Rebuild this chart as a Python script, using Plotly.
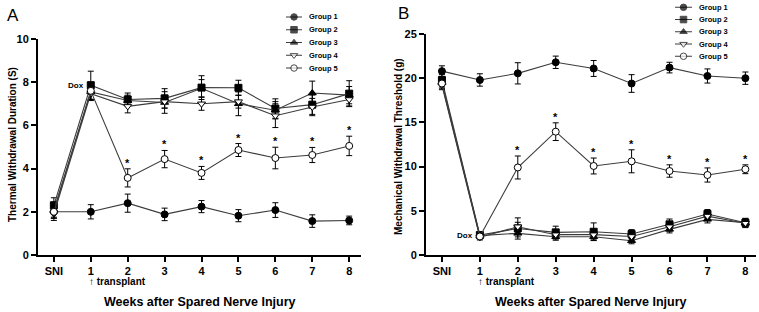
import plotly.graph_objects as go

# ---------------- data ----------------
weeks = [0, 1, 2, 3, 4, 5, 6, 7, 8]
week_labels = ["SNI", "1", "2", "3", "4", "5", "6", "7", "8"]
group_names = ["Group 1", "Group 2", "Group 3", "Group 4", "Group 5"]

# Panel A: Thermal withdrawal duration (S)
a_g1 = [2.0, 2.0, 2.4, 1.88, 2.24, 1.82, 2.08, 1.57, 1.6]
a_g1_err = [0.3, 0.33, 0.42, 0.29, 0.28, 0.28, 0.34, 0.29, 0.2]
a_g2 = [2.3, 7.86, 7.2, 7.25, 7.75, 7.74, 6.78, 6.96, 7.47]
a_g2_err = [0.35, 0.65, 0.3, 0.45, 0.55, 0.35, 0.45, 0.45, 0.6]
a_g3 = [2.1, 7.55, 7.15, 7.06, 7.72, 7.0, 6.7, 7.5, 7.4]
a_g3_err = [0.35, 0.4, 0.25, 0.5, 0.4, 0.55, 0.4, 0.55, 0.4]
a_g4 = [1.9, 7.47, 6.88, 7.1, 7.0, 7.1, 6.45, 6.85, 7.2]
a_g4_err = [0.3, 0.3, 0.3, 0.3, 0.3, 0.3, 0.55, 0.4, 0.3]
a_g5 = [2.0, 7.6, 3.57, 4.44, 3.8, 4.86, 4.49, 4.63, 5.05]
a_g5_err = [0.3, 0.4, 0.42, 0.4, 0.3, 0.3, 0.5, 0.35, 0.45]
a_star_weeks = [2, 3, 4, 5, 6, 7, 8]

# Panel B: Mechanical withdrawal threshold (g)
b_g1 = [20.8, 19.8, 20.55, 21.8, 21.1, 19.4, 21.2, 20.25, 20.0]
b_g1_err = [0.6, 0.7, 1.2, 0.7, 0.9, 1.0, 0.6, 0.8, 0.7]
b_g2 = [19.8, 2.26, 3.0, 2.56, 2.63, 2.37, 3.47, 4.64, 3.65]
b_g2_err = [0.6, 0.3, 1.2, 0.7, 1.0, 0.5, 0.6, 0.5, 0.5]
b_g3 = [19.5, 2.2, 2.45, 2.07, 2.07, 1.62, 2.9, 4.03, 3.65]
b_g3_err = [0.5, 0.3, 0.4, 0.4, 0.4, 0.35, 0.4, 0.4, 0.4]
b_g4 = [19.2, 2.0, 3.2, 2.3, 2.3, 2.1, 3.2, 4.4, 3.6]
b_g4_err = [0.5, 0.3, 0.5, 0.5, 0.5, 0.4, 0.5, 0.5, 0.5]
b_g5 = [19.4, 2.1, 9.9, 13.95, 10.07, 10.6, 9.5, 9.05, 9.7]
b_g5_err = [0.6, 0.3, 1.3, 1.0, 0.9, 1.3, 0.7, 0.8, 0.5]
b_star_weeks = [2, 3, 4, 5, 6, 7, 8]

a_ticks = [0, 2, 4, 6, 8, 10]
b_ticks = [0, 5, 10, 15, 20, 25]

# ---------------- styling ----------------
W, H = 759, 312
FONT = "Liberation Sans, Arial, sans-serif"
LINE_C = "#3c3c3c"
marker_styles = [
    dict(symbol="circle", color="black", size=7, line=dict(color="black", width=1)),
    dict(symbol="square", color="black", size=7, line=dict(color="black", width=1)),
    dict(symbol="triangle-up", color="black", size=7, line=dict(color="black", width=1)),
    dict(symbol="triangle-down", color="white", size=7, line=dict(color="black", width=1)),
    dict(symbol="circle", color="white", size=7, line=dict(color="black", width=1)),
]


def px_x(p):
    return p / W


def px_y(p):
    return (H - p) / H


fig = go.Figure()

panels = [
    ("x", "y", [a_g1, a_g2, a_g3, a_g4, a_g5],
     [a_g1_err, a_g2_err, a_g3_err, a_g4_err, a_g5_err]),
    ("x2", "y2", [b_g1, b_g2, b_g3, b_g4, b_g5],
     [b_g1_err, b_g2_err, b_g3_err, b_g4_err, b_g5_err]),
]
draw_order = [1, 2, 3, 0, 4]
for xa, ya, vals, errs in panels:
    for gi in draw_order:
        fig.add_trace(go.Scatter(
            x=weeks, y=vals[gi], xaxis=xa, yaxis=ya, mode="lines+markers",
            name=group_names[gi], showlegend=False, cliponaxis=False,
            line=dict(color=LINE_C, width=1.1),
            marker=marker_styles[gi],
            error_y=dict(type="data", array=errs[gi], visible=True,
                         color="black", thickness=1, width=3),
        ))

# custom legends (small inset axes)
legend_axes = [("x3", "y3"), ("x4", "y4")]
for xa, ya in legend_axes:
    for gi, name in enumerate(group_names):
        fig.add_trace(go.Scatter(
            x=[0, 0.5, 1], y=[gi, gi, gi], xaxis=xa, yaxis=ya,
            mode="lines+markers", showlegend=False, cliponaxis=False,
            line=dict(color=LINE_C, width=1.1),
            marker=dict(symbol=marker_styles[gi]["symbol"],
                        color=marker_styles[gi]["color"],
                        size=[0, 6.5, 0],
                        line=dict(color="black", width=1)),
            hoverinfo="skip",
        ))
        fig.add_annotation(x=1, y=gi, xref=xa, yref=ya, text=name,
                           showarrow=False, xanchor="left", xshift=5,
                           font=dict(size=7.5, family=FONT, color="black", weight="bold"))

# significance asterisks
for w in a_star_weeks:
    fig.add_annotation(x=w, y=a_g5[w] + a_g5_err[w], xref="x", yref="y", text="*",
                       showarrow=False, yanchor="bottom", yshift=-2,
                       font=dict(size=11, family=FONT, color="black", weight="bold"))
for w in b_star_weeks:
    fig.add_annotation(x=w, y=b_g5[w] + b_g5_err[w], xref="x2", yref="y2", text="*",
                       showarrow=False, yanchor="bottom", yshift=-2,
                       font=dict(size=11, family=FONT, color="black", weight="bold"))

# Dox labels
fig.add_annotation(x=1, y=a_g2[1], xref="x", yref="y", text="Dox", showarrow=False,
                   xanchor="right", xshift=-5,
                   font=dict(size=8, family=FONT, color="black", weight="bold"))
fig.add_annotation(x=1, y=b_g2[1], xref="x2", yref="y2", text="Dox", showarrow=False,
                   xanchor="right", xshift=-5,
                   font=dict(size=8, family=FONT, color="black", weight="bold"))

# transplant labels
for xr in ["x", "x2"]:
    fig.add_annotation(x=1, y=px_y(281), xref=xr, yref="paper", text="↑ transplant",
                       showarrow=False, xanchor="left", xshift=-4, yanchor="middle",
                       font=dict(size=10, family=FONT, color="black", weight="bold"))

# x titles
for xr in ["x domain", "x2 domain"]:
    fig.add_annotation(x=0.5, y=px_y(302), xref=xr, yref="paper",
                       text="Weeks after Spared Nerve Injury", showarrow=False,
                       xanchor="center", yanchor="middle",
                       font=dict(size=12.5, family=FONT, color="black", weight="bold"))

# y titles
fig.add_annotation(x=px_x(12), y=px_y(145), xref="paper", yref="paper",
                   text="Thermal Withdrawal Duration (S)", textangle=-90,
                   showarrow=False, xanchor="center", yanchor="middle",
                   font=dict(size=10, family=FONT, color="black", weight="bold"))
fig.add_annotation(x=px_x(398), y=px_y(147), xref="paper", yref="paper",
                   text="Mechanical Withdrawal Threshold (g)", textangle=-90,
                   showarrow=False, xanchor="center", yanchor="middle",
                   font=dict(size=10, family=FONT, color="black", weight="bold"))

# panel letters
fig.add_annotation(x=px_x(13), y=px_y(15), xref="paper", yref="paper", text="A",
                   showarrow=False, xanchor="center", yanchor="middle",
                   font=dict(size=17, family=FONT, color="black"))
fig.add_annotation(x=px_x(403), y=px_y(14), xref="paper", yref="paper", text="B",
                   showarrow=False, xanchor="center", yanchor="middle",
                   font=dict(size=17, family=FONT, color="black"))

axis_common = dict(showline=True, linewidth=2, linecolor="black", showgrid=False,
                   zeroline=False, ticks="outside", ticklen=5, tickwidth=2,
                   tickcolor="black", automargin=False,
                   tickfont=dict(size=11, family=FONT, color="black", weight="bold"))

hidden = dict(visible=False, showgrid=False, zeroline=False, fixedrange=True,
              automargin=False)

fig.update_layout(
    width=W, height=H, autosize=False,
    margin=dict(l=0, r=0, t=0, b=0, pad=0, autoexpand=False),
    paper_bgcolor="white", plot_bgcolor="white", showlegend=False,
    xaxis=dict(domain=[px_x(38), px_x(361)], range=[-0.43, 8.32],
               tickvals=weeks, ticktext=week_labels, anchor="y", **axis_common),
    yaxis=dict(domain=[px_y(255), px_y(39)], range=[0, 10], tickvals=a_ticks,
               anchor="x", **axis_common),
    xaxis2=dict(domain=[px_x(426), px_x(756)], range=[-0.42, 8.28],
                tickvals=weeks, ticktext=week_labels, anchor="y2", **axis_common),
    yaxis2=dict(domain=[px_y(255), px_y(34)], range=[0, 25], tickvals=b_ticks,
                anchor="x2", **axis_common),
    xaxis3=dict(domain=[px_x(286), px_x(302)], range=[0, 1], anchor="y3", **hidden),
    yaxis3=dict(domain=[px_y(74.4), px_y(10.6)], range=[4.5, -0.5], anchor="x3", **hidden),
    xaxis4=dict(domain=[px_x(675), px_x(692)], range=[0, 1], anchor="y4", **hidden),
    yaxis4=dict(domain=[px_y(62.4), px_y(1.2)], range=[4.5, -0.5], anchor="x4", **hidden),
)

# remove the browser's default page margin so the figure sits at the window origin
fig.write_html("out.html",
               config={"displayModeBar": False},
               post_script="document.body.style.margin='0';"
                           "document.body.style.overflow='hidden';")
